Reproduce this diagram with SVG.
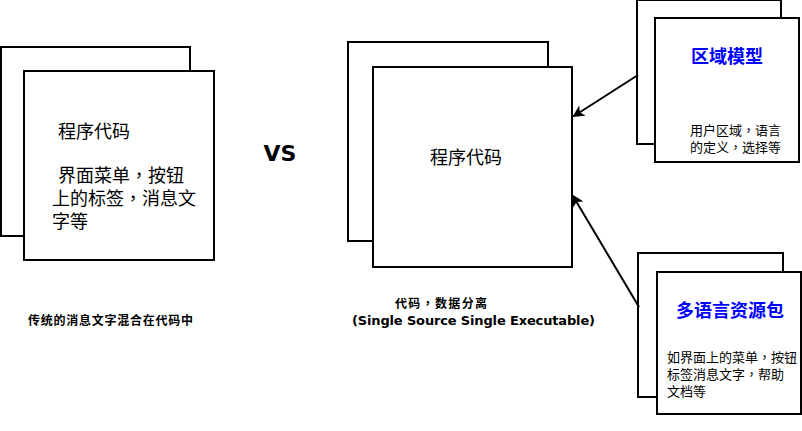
<svg xmlns="http://www.w3.org/2000/svg" width="802" height="431" viewBox="0 0 802 431">
<defs>
<style>
.box{fill:#fff;stroke:#000;stroke-width:2}
.t{font-family:"Liberation Sans","Noto Sans CJK SC",sans-serif;fill:#000}
.cn{font-size:18px}
.sm{font-size:13px}
.blue{fill:#0000ff;font-size:18px;font-weight:bold}
.b{font-family:"DejaVu Sans","Noto Sans CJK SC",sans-serif;font-weight:bold;fill:#000}
.cm{font-family:"Noto Sans CJK TC",sans-serif}
.conn{stroke:#000;stroke-width:2;fill:none}
</style>
<marker id="ah" markerWidth="12" markerHeight="12" viewBox="0 0 12 12" refX="10" refY="6" orient="auto" markerUnits="userSpaceOnUse">
<path d="M0,0 L12,6 L0,12 L3,6 Z" fill="#000"/>
</marker>
</defs>
<rect width="802" height="431" fill="#fff"/>
<g id="left-node">
<rect class="box" x="1" y="47" width="189" height="189"/>
<rect class="box" x="24" y="71" width="190" height="189"/>
<text class="t cn" x="58" y="138">程序代码</text>
<text class="t cn" x="58" y="182">界面菜单<tspan class="cm">，</tspan>按钮</text>
<text class="t cn" x="52" y="205">上的标签<tspan class="cm">，</tspan>消息文</text>
<text class="t cn" x="52" y="228">字等</text>
</g>
<g id="vs">
<text class="b" x="280" y="161" font-size="22" text-anchor="middle">VS</text>
</g>
<g id="center-node">
<rect class="box" x="348" y="42" width="200" height="199"/>
<rect class="box" x="373" y="67" width="199" height="200"/>
<text class="t cn" x="466" y="164" text-anchor="middle">程序代码</text>
</g>
<g id="region-node">
<rect class="box" x="637" y="0" width="144" height="144"/>
<rect class="box" x="655" y="18" width="144" height="144"/>
<text class="t blue" x="727" y="63" text-anchor="middle">区域模型</text>
<text class="t sm" x="690" y="135">用户区域<tspan class="cm">，</tspan>语言</text>
<text class="t sm" x="690" y="152">的定义<tspan class="cm">，</tspan>选择等</text>
</g>
<g id="resource-node">
<rect class="box" x="638" y="253" width="145" height="144"/>
<rect class="box" x="657" y="272" width="144" height="142"/>
<text class="t blue" x="730" y="317" text-anchor="middle">多语言资源包</text>
<text class="t sm" x="667" y="362">如界面上的菜单<tspan class="cm">，</tspan>按钮</text>
<text class="t sm" x="667" y="379">标签消息文字<tspan class="cm">，</tspan>帮助</text>
<text class="t sm" x="667" y="396">文档等</text>
</g>
<g id="captions">
<text class="b" x="28" y="325" font-size="12" textLength="165">传统的消息文字混合在代码中</text>
<text class="b" x="395" y="308" font-size="12" textLength="92">代码<tspan class="cm">，</tspan>数据分离</text>
<text class="b" x="352" y="325" font-size="13" textLength="243">(Single Source Single Executable)</text>
</g>
<g id="connectors">
<line class="conn" x1="638" y1="75" x2="574" y2="116" marker-end="url(#ah)"/>
<line class="conn" x1="639" y1="307" x2="573" y2="196" marker-end="url(#ah)"/>
</g>
</svg>
